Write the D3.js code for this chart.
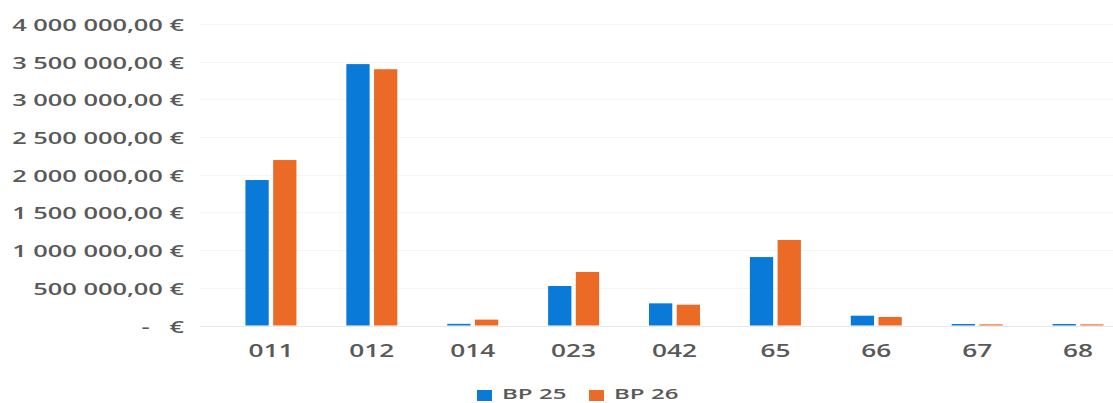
<!DOCTYPE html>
<html>
<head>
<meta charset="utf-8">
<script src="https://cdn.jsdelivr.net/npm/d3@7"></script>
<style>
  body { margin: 0; background: #fff; }
  svg { display: block; }
  text { font-family: "Open Sans", sans-serif; font-weight: 600; fill: #595959; white-space: pre; }
</style>
</head>
<body>
<svg id="chart" width="1113" height="403"></svg>
<script>
const categories = ["011", "012", "014", "023", "042", "65", "66", "67", "68"];
const seriesNames = ["BP 25", "BP 26"];
const bp25 = [1930000, 3468000, 22000, 524000, 294000, 908000, 130000, 20000, 20000];
const bp26 = [2195000, 3400000, 78000, 710000, 276000, 1134000, 113000, 15000, 15000];
const yTicks = [0, 500000, 1000000, 1500000, 2000000, 2500000, 3000000, 3500000, 4000000];

const colours = ["#0A7AD9", "#EB6A26"];
const width = 1113;
const height = 403;

const rows = categories.map((c, i) => ({ cat: c, values: [bp25[i], bp26[i]] }));

const svg = d3.select("#chart");

const y = d3.scaleLinear().domain([0, 4000000]).range([325.5, 24]);
const x0 = d3.scaleBand().domain(categories).range([220.5, 1128.5]);
const groupW = 51;
const x1 = d3.scaleBand().domain(seriesNames).range([0, groupW]).paddingInner(0.16);

// french money formatting: "3 500 000,00 €"
const fr = d3.formatLocale({ decimal: ",", thousands: " ", grouping: [3], currency: ["", " €"] });
const fmt = (v) => v === 0 ? "-   €" : fr.format(",.2f")(v) + " €";

// stretched text, the source picture is wider than normal type
const stretch = (sel, sx) => sel.attr("transform", function () {
    const t = d3.select(this);
    return `translate(${t.attr("data-x")},${t.attr("data-y")}) scale(${sx},1)`;
});

// faint gridlines
svg.append("g")
    .selectAll("line")
    .data(yTicks)
    .join("line")
    .attr("x1", 200)
    .attr("x2", width)
    .attr("y1", (d) => Math.round(y(d)) + 0.5)
    .attr("y2", (d) => Math.round(y(d)) + 0.5)
    .attr("stroke", d => d === 0 ? "#e8e8e8" : "#f4f4f4")
    .attr("stroke-width", 1);

// y labels
svg.append("g")
    .selectAll("text")
    .data(yTicks)
    .join("text")
    .attr("data-x", 184)
    .attr("data-y", (d) => y(d) + 7)
    .attr("text-anchor", "end")
    .attr("font-size", 16.5)
    .text(fmt)
    .call(stretch, 1.54);

// bars
const groups = svg.append("g")
    .selectAll("g")
    .data(rows)
    .join("g")
    .attr("transform", (d) => `translate(${x0(d.cat) + x0.bandwidth() / 2 - groupW / 2},0)`);

groups.selectAll("rect")
    .data((d) => d.values.map((v, i) => ({ key: seriesNames[i], v: v, i: i })))
    .join("rect")
    .attr("x", (d) => x1(d.key))
    .attr("width", x1.bandwidth())
    .attr("y", (d) => y(d.v))
    .attr("height", (d) => y(0) - y(d.v))
    .attr("fill", (d) => colours[d.i]);

// x labels
svg.append("g")
    .selectAll("text")
    .data(categories)
    .join("text")
    .attr("data-x", (d) => x0(d) + x0.bandwidth() / 2)
    .attr("data-y", 357)
    .attr("text-anchor", "middle")
    .attr("font-size", 18.5)
    .text((d) => d)
    .call(stretch, 1.42);

// legend
const legend = svg.append("g");
const legendX = [477, 589];
seriesNames.forEach((name, i) => {
    legend.append("rect")
        .attr("x", legendX[i])
        .attr("y", 390)
        .attr("width", 15)
        .attr("height", 11)
        .attr("fill", colours[i]);
    legend.append("text")
        .attr("data-x", legendX[i] + 25)
        .attr("data-y", 399)
        .attr("font-size", 14.5)
        .text(name)
        .call(stretch, 1.66);
});
</script>
</body>
</html>
